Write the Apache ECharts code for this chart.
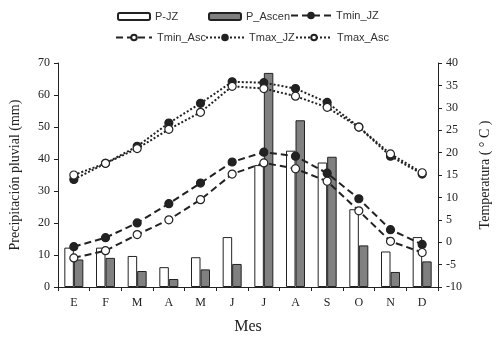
<!DOCTYPE html>
<html>
<head>
<meta charset="utf-8">
<script src="https://cdn.jsdelivr.net/npm/echarts@6/dist/echarts.min.js"></script>
<style>
  html, body { margin: 0; padding: 0; background: #fff; }
  #chart { width: 500px; height: 340px; }
</style>
</head>
<body>
<div id="chart"></div>
<script>
const meses = ['E', 'F', 'M', 'A', 'M', 'J', 'J', 'A', 'S', 'O', 'N', 'D']
const pJZ = [12.3, 12.3, 9.7, 6.2, 9.3, 15.6, 38.1, 42.6, 38.9, 24.3, 11.1, 15.6]
const pAscen = [8.6, 9.1, 5.0, 2.5, 5.5, 7.2, 66.9, 52.1, 40.7, 13.0, 4.7, 8.0]
const tminJZ = [-1.0, 1.0, 4.3, 8.6, 13.2, 17.9, 20.1, 19.2, 15.4, 9.7, 2.8, -0.5]
const tminAsc = [-3.5, -1.9, 1.7, 5.0, 9.5, 15.2, 17.7, 16.4, 13.6, 7.0, 0.2, -2.3]
const tmaxJZ = [14.0, 17.6, 21.4, 26.6, 31.0, 35.8, 35.6, 34.3, 31.2, 25.7, 19.2, 15.2]
const tmaxAsc = [15.0, 17.6, 20.9, 25.2, 29.0, 34.8, 34.3, 32.6, 30.1, 25.7, 19.7, 15.5]

const chart = echarts.init(document.getElementById('chart'))
const ink = '#222'
const serif = 'Liberation Serif'
const legendText = { color: '#333', fontSize: 11, fontFamily: 'Liberation Sans' }

// each legend entry is placed on its own, like the two-row excel legend
const leg = (name, left, top, w) => ({
  data: [name],
  left: left,
  top: top,
  padding: 0,
  itemWidth: w,
  itemHeight: 7,
  itemGap: 4,
  textStyle: legendText,
  selectedMode: false
})

const lineSerie = (name, data, dash, filled) => ({
  name: name,
  type: 'line',
  yAxisIndex: 1,
  data: data,
  symbol: 'circle',
  symbolSize: 8,
  z: 5,
  lineStyle: { color: ink, width: 2, type: dash },
  itemStyle: { color: filled ? ink : '#fff', borderColor: ink, borderWidth: 1.2 }
})

chart.setOption({
  animation: false,
  legend: [
    leg('P-JZ', 117, 11, 32),
    leg('P_Ascen', 208, 11, 32),
    leg('Tmin_JZ', 290, 10, 40),
    leg('Tmin_Asc', 115, 32, 36),
    leg('Tmax_JZ', 205, 32, 38),
    leg('Tmax_Asc', 295, 32, 36)
  ],
  grid: { left: 52, right: 57, top: 63, bottom: 48 },
  xAxis: {
    type: 'category',
    data: meses,
    axisLine: { lineStyle: { color: ink, width: 1 } },
    axisTick: { show: true, length: 4, inside: false, lineStyle: { color: ink } },
    axisLabel: { color: ink, fontFamily: serif, fontSize: 12, margin: 10 },
    name: 'Mes',
    nameLocation: 'middle',
    nameGap: 32,
    nameTextStyle: { color: ink, fontFamily: serif, fontSize: 16 }
  },
  yAxis: [
    {
      type: 'value',
      min: 0,
      max: 70,
      interval: 10,
      name: 'Precipitación pluvial (mm)',
      nameLocation: 'middle',
      nameGap: 36,
      nameTextStyle: { color: ink, fontFamily: serif, fontSize: 14 },
      axisLine: { show: true, lineStyle: { color: ink } },
      axisTick: { show: true, length: 4, lineStyle: { color: ink } },
      axisLabel: { color: ink, fontFamily: serif, fontSize: 12, margin: 8 },
      splitLine: { show: false }
    },
    {
      type: 'value',
      min: -10,
      max: 40,
      interval: 5,
      position: 'right',
      name: 'Temperatura ( ° C )',
      nameLocation: 'middle',
      nameGap: 40,
      nameTextStyle: { color: ink, fontFamily: serif, fontSize: 14 },
      axisLine: { show: true, lineStyle: { color: ink } },
      axisTick: { show: true, length: 4, lineStyle: { color: ink } },
      axisLabel: { color: ink, fontFamily: serif, fontSize: 12, margin: 8 },
      splitLine: { show: false }
    }
  ],
  series: [
    {
      name: 'P-JZ',
      type: 'bar',
      data: pJZ,
      barWidth: 9.5,
      barGap: '0%',
      itemStyle: { color: '#fff', borderColor: ink, borderWidth: 1 }
    },
    {
      name: 'P_Ascen',
      type: 'bar',
      data: pAscen,
      barWidth: 9.5,
      barGap: '0%',
      itemStyle: { color: '#808080', borderColor: ink, borderWidth: 1 }
    },
    lineSerie('Tmin_JZ', tminJZ, [7, 4], true),
    lineSerie('Tmin_Asc', tminAsc, [7, 4], false),
    lineSerie('Tmax_JZ', tmaxJZ, [2, 2], true),
    lineSerie('Tmax_Asc', tmaxAsc, [2, 2], false)
  ]
})
</script>
</body>
</html>
